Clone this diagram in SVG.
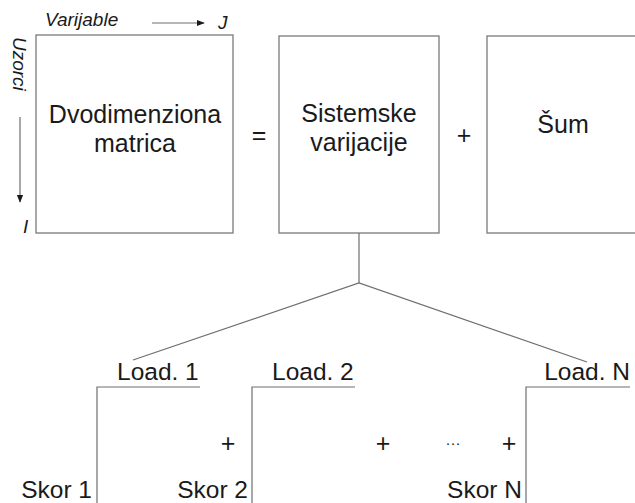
<svg xmlns="http://www.w3.org/2000/svg" width="635" height="503" viewBox="0 0 635 503">
<style>
text{font-family:"Liberation Sans",Arial,sans-serif;fill:#1a1a1a}
.big{font-size:25px;text-anchor:middle}
.lab{font-size:24.5px}
.it{font-size:19px;font-style:italic}
.box{fill:#fff;stroke:#7a7a7a;stroke-width:1.3}
.ln{fill:none;stroke:#6e6e6e;stroke-width:1.2}
</style>
<defs>
<marker id="ah" viewBox="0 0 10 10" refX="9" refY="5" markerWidth="8" markerHeight="8" markerUnits="userSpaceOnUse" orient="auto">
<path d="M0,1 L10,5 L0,9 z" fill="#1a1a1a"/>
</marker>
</defs>
<rect width="635" height="503" fill="#fff"/>
<g id="axes">
<text class="it" x="45" y="26">Varijable</text>
<line class="ln" x1="152" y1="23" x2="204" y2="23" stroke="#1a1a1a" marker-end="url(#ah)"/>
<text class="it" x="218" y="29">J</text>
<text class="it" transform="translate(13,37) rotate(90)">Uzorci</text>
<line class="ln" x1="20" y1="117" x2="20" y2="202" stroke="#1a1a1a" marker-end="url(#ah)"/>
<text class="it" x="23" y="233">I</text>
</g>
<g id="matrica">
<rect class="box" x="36" y="35" width="197" height="198"/>
<text class="big" x="135" y="123">Dvodimenziona</text>
<text class="big" x="135" y="152">matrica</text>
</g>
<text class="big" x="259" y="144">=</text>
<g id="sistemske">
<rect class="box" x="279" y="36" width="160" height="197"/>
<text class="big" x="359" y="122">Sistemske</text>
<text class="big" x="359" y="151">varijacije</text>
</g>
<text class="big" x="464" y="144">+</text>
<g id="sum">
<rect class="box" x="487" y="36" width="160" height="197"/>
<text class="big" x="563" y="133">Šum</text>
</g>
<g id="connectors">
<polyline class="ln" points="133,360 359,283 587,362"/>
<line class="ln" x1="359" y1="233" x2="359" y2="283"/>
</g>
<g id="komp1">
<text class="lab" x="117" y="380">Load. 1</text>
<polyline class="ln" points="200,387 97,387 97,503"/>
<text class="lab" x="92" y="498" text-anchor="end">Skor 1</text>
</g>
<text class="big" x="228" y="452">+</text>
<g id="komp2">
<text class="lab" x="272" y="380">Load. 2</text>
<polyline class="ln" points="355,387 252,387 252,503"/>
<text class="lab" x="248" y="498" text-anchor="end">Skor 2</text>
</g>
<text class="big" x="383" y="452">+</text>
<text class="big" x="453" y="448" style="font-size:15px">···</text>
<text class="big" x="509" y="452">+</text>
<g id="kompN">
<text class="lab" x="630" y="380" text-anchor="end">Load. N</text>
<polyline class="ln" points="630,387 526,387 526,503"/>
<text class="lab" x="522" y="498" text-anchor="end">Skor N</text>
</g>
</svg>
